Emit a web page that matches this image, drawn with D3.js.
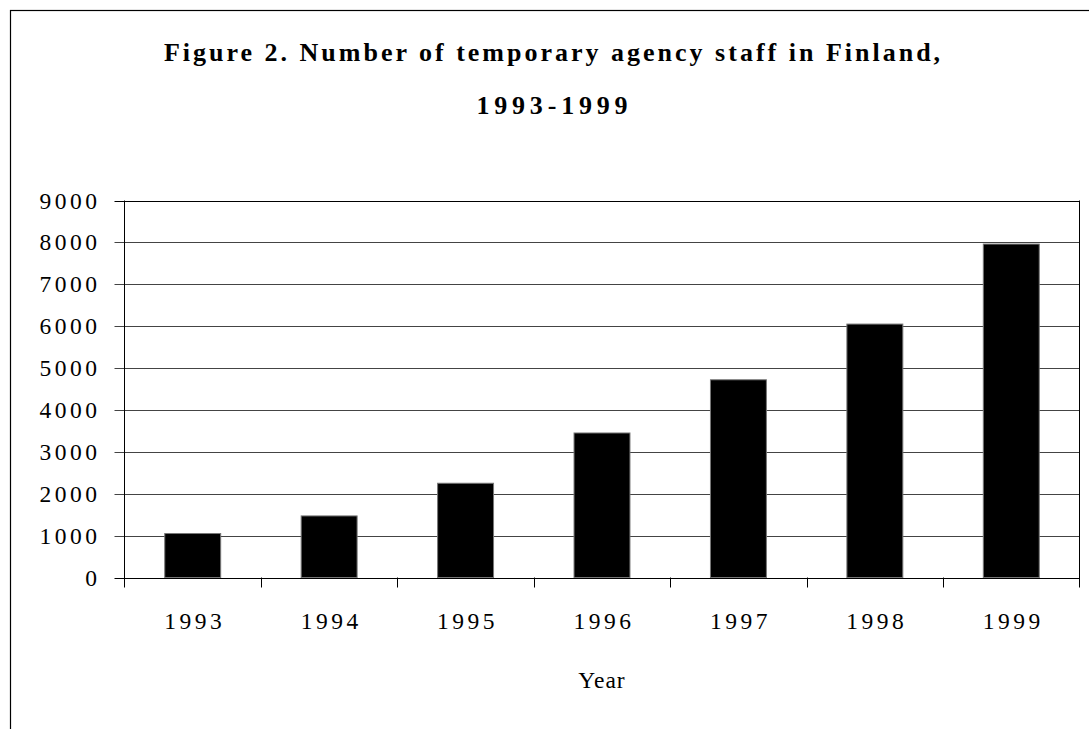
<!DOCTYPE html>
<html>
<head>
<meta charset="utf-8">
<script src="https://cdn.jsdelivr.net/npm/d3@7"></script>
<style>
  body { margin: 0; background: #fff; }
  svg { display: block; }
</style>
</head>
<body>
<svg id="chart"></svg>
<script>
var years = ["1993", "1994", "1995", "1996", "1997", "1998", "1999"];
var staff = [1050, 1470, 2250, 3450, 4720, 6050, 7960];
var yTicks = [0, 1000, 2000, 3000, 4000, 5000, 6000, 7000, 8000, 9000];

var width = 1089;
var height = 729;
var plotLeft = 124.5, plotRight = 1079.5, plotTop = 200.5, plotBottom = 577.5;
var serif = "Liberation Serif, Times New Roman, serif";

var svg = d3.select("#chart")
            .attr("width", width)
            .attr("height", height);

// outer frame (runs off the page right and bottom)
svg.append("rect")
   .attr("x", 10.5)
   .attr("y", 10.5)
   .attr("width", 1200)
   .attr("height", 1000)
   .attr("fill", "none")
   .attr("stroke", "#000")
   .attr("stroke-width", 1.2);

var x = d3.scaleBand()
          .domain(years)
          .range([plotLeft, plotRight])
          .paddingInner(0.59)
          .paddingOuter(0.295);

var band = d3.scaleBand().domain(years).range([plotLeft, plotRight]);

var y = d3.scaleLinear()
          .domain([0, 9000])
          .range([plotBottom, plotTop]);

// gridlines
svg.selectAll(".grid")
   .data(yTicks)
   .enter()
   .append("line")
   .attr("x1", plotLeft - 10)
   .attr("x2", plotRight)
   .attr("y1", function(d){ return Math.round(y(d)) + 0.5; })
   .attr("y2", function(d){ return Math.round(y(d)) + 0.5; })
   .attr("stroke", function(d){ return (d == 0 || d == 9000) ? "#000" : "#444"; })
   .attr("stroke-width", 1);

// plot frame sides
svg.append("line")
   .attr("x1", plotLeft).attr("x2", plotLeft)
   .attr("y1", plotTop).attr("y2", plotBottom + 10)
   .attr("stroke", "#000");
svg.append("line")
   .attr("x1", plotRight).attr("x2", plotRight)
   .attr("y1", plotTop).attr("y2", plotBottom + 10)
   .attr("stroke", "#000");

// x ticks at category boundaries
svg.selectAll(".xtick")
   .data(years.slice(1))
   .enter()
   .append("line")
   .attr("x1", function(d){ return Math.round(band(d)) + 0.5; })
   .attr("x2", function(d){ return Math.round(band(d)) + 0.5; })
   .attr("y1", plotBottom)
   .attr("y2", plotBottom + 10)
   .attr("stroke", "#000");

// bars
svg.selectAll(".bar")
   .data(staff)
   .enter()
   .append("rect")
   .attr("x", function(d, i){ return x(years[i]); })
   .attr("y", function(d){ return y(d); })
   .attr("width", x.bandwidth())
   .attr("height", function(d){ return plotBottom - y(d); })
   .attr("fill", "#000")
   .attr("stroke", "#777")
   .attr("stroke-width", 1);

// y labels
svg.selectAll(".ylabel")
   .data(yTicks)
   .enter()
   .append("text")
   .text(function(d){ return d; })
   .attr("x", 100.5)
   .attr("y", function(d){ return y(d) + 8; })
   .attr("text-anchor", "end")
   .attr("font-family", serif)
   .attr("font-size", "23.5px")
   .attr("letter-spacing", "3.5px")
   .attr("fill", "#000");

// x labels
svg.selectAll(".xlabel")
   .data(years)
   .enter()
   .append("text")
   .text(function(d){ return d; })
   .attr("x", function(d){ return x(d) + x.bandwidth() / 2 + 2; })
   .attr("y", 629)
   .attr("text-anchor", "middle")
   .attr("font-family", serif)
   .attr("font-size", "23.5px")
   .attr("letter-spacing", "3.5px")
   .attr("fill", "#000");

// axis title
svg.append("text")
   .text("Year")
   .attr("x", (plotLeft + plotRight) / 2)
   .attr("y", 688)
   .attr("text-anchor", "middle")
   .attr("font-family", serif)
   .attr("font-size", "23.5px")
   .attr("letter-spacing", "1px")
   .attr("fill", "#000");

// chart title
var title = ["Figure 2. Number of temporary agency staff in Finland,", "1993-1999"];
var titleSpacing = [3.0, 4.8];
svg.selectAll(".title")
   .data(title)
   .enter()
   .append("text")
   .text(function(d){ return d; })
   .attr("x", function(d, i){ return 552 + titleSpacing[i] / 2; })
   .attr("y", function(d, i){ return 61 + i * 53; })
   .attr("text-anchor", "middle")
   .attr("font-family", serif)
   .attr("font-weight", "bold")
   .attr("font-size", "26px")
   .attr("letter-spacing", function(d, i){ return titleSpacing[i] + "px"; })
   .attr("fill", "#000");
</script>
</body>
</html>
